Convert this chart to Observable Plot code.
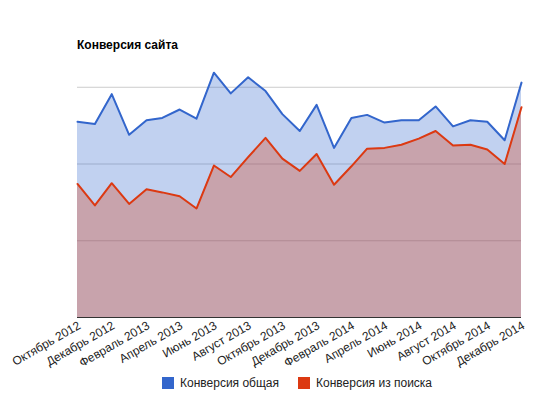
<!DOCTYPE html>
<html>
<head>
<meta charset="utf-8">
<script src="https://cdn.jsdelivr.net/npm/d3@7"></script>
<script src="https://cdn.jsdelivr.net/npm/@observablehq/plot@0.6"></script>
<style>
  body { margin: 0; background: #fff; font-family: Arial, "Liberation Sans", sans-serif; }
  #wrap { position: relative; width: 557px; height: 393px; }
  #title { position: absolute; left: 77px; top: 38px; font-size: 12px; font-weight: bold; color: #000; }
  #legend { position: absolute; left: 162px; top: 376px; font-size: 12px; color: #222; display: flex; align-items: center; }
  .sw { display: inline-block; width: 12px; height: 12px; margin-right: 6px; }
  .item { display: flex; align-items: center; margin-right: 19px; }
</style>
</head>
<body>
<div id="wrap">
  <div id="chart"></div>
  <div id="title">Конверсия сайта</div>
  <div id="legend"></div>
</div>
<script>
const months = ["2012-10","2012-11","2012-12","2013-01","2013-02","2013-03","2013-04","2013-05","2013-06","2013-07","2013-08","2013-09","2013-10","2013-11","2013-12","2014-01","2014-02","2014-03","2014-04","2014-05","2014-06","2014-07","2014-08","2014-09","2014-10","2014-11","2014-12"];
const total = [2.55,2.52,2.91,2.38,2.57,2.60,2.71,2.59,3.19,2.92,3.13,2.95,2.65,2.43,2.77,2.21,2.60,2.64,2.54,2.57,2.57,2.75,2.49,2.57,2.55,2.31,3.06];
const search = [1.74,1.46,1.75,1.48,1.67,1.63,1.58,1.42,1.98,1.83,2.09,2.34,2.07,1.91,2.13,1.73,1.97,2.20,2.21,2.25,2.33,2.43,2.24,2.25,2.19,2.00,2.74];
const tickMonths = ["2012-10","2012-12","2013-02","2013-04","2013-06","2013-08","2013-10","2013-12","2014-02","2014-04","2014-06","2014-08","2014-10","2014-12"];
const tickLabels = ["Октябрь 2012","Декабрь 2012","Февраль 2013","Апрель 2013","Июнь 2013","Август 2013","Октябрь 2013","Декабрь 2013","Февраль 2014","Апрель 2014","Июнь 2014","Август 2014","Октябрь 2014","Декабрь 2014"];
const gridValues = [1, 2, 3];
const seriesNames = ["Конверсия общая", "Конверсия из поиска"];
const seriesColors = ["#3366cc", "#dc3912"];

const parse = d3.utcParse("%Y-%m");
const data = months.map((m, i) => ({date: parse(m), total: total[i], search: search[i]}));
const tickDates = tickMonths.map(parse);
const labelOf = new Map(tickMonths.map((m, i) => [+parse(m), tickLabels[i]]));

const chart = Plot.plot({
  width: 557,
  height: 393,
  marginLeft: 77,
  marginRight: 36,
  marginTop: 10,
  marginBottom: 76,
  style: {fontFamily: "Arial, 'Liberation Sans', sans-serif", fontSize: "12px", color: "#222", background: "transparent"},
  x: {type: "utc", domain: [data[0].date, data[data.length - 1].date]},
  y: {domain: [0, 4], axis: null},
  marks: [
    Plot.ruleY(gridValues, {stroke: "#ccc", strokeOpacity: 1}),
    Plot.areaY(data, {x: "date", y: "total", fill: seriesColors[0], fillOpacity: 0.3}),
    Plot.areaY(data, {x: "date", y: "search", fill: seriesColors[1], fillOpacity: 0.3}),
    Plot.ruleY([0], {stroke: "#333", strokeWidth: 1}),
    Plot.lineY(data, {x: "date", y: "total", stroke: seriesColors[0], strokeWidth: 2}),
    Plot.lineY(data, {x: "date", y: "search", stroke: seriesColors[1], strokeWidth: 2}),
    Plot.axisX({ticks: tickDates, tickFormat: d => labelOf.get(+d), tickRotate: -30, tickSize: 0, tickPadding: 4, dx: 2, dy: 3, fill: "#222"})
  ]
});
document.getElementById("chart").appendChild(chart);

const legend = document.getElementById("legend");
seriesNames.forEach((n, i) => {
  const it = document.createElement("div");
  it.className = "item";
  it.innerHTML = `<span class="sw" style="background:${seriesColors[i]}"></span><span>${n}</span>`;
  legend.appendChild(it);
});
</script>
</body>
</html>
